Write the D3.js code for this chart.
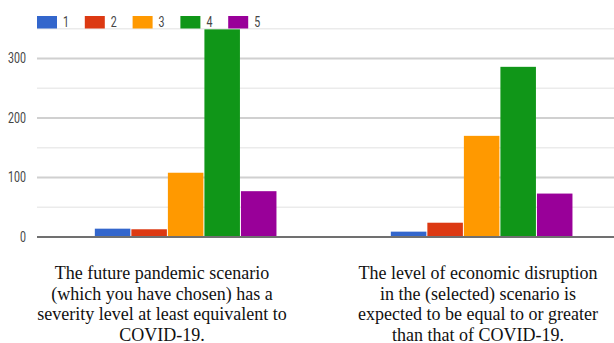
<!DOCTYPE html>
<html>
<head>
<meta charset="utf-8">
<script src="https://cdn.jsdelivr.net/npm/d3@7"></script>
<style>
  html, body { margin: 0; padding: 0; background: #fff; }
  svg { display: block; }
</style>
</head>
<body>
<svg id="chart" width="614" height="343"></svg>
<script>
// Survey statements (one group of bars each) and the Likert answers 1–5
const statements = [
  ["The future pandemic scenario", "(which you have chosen) has a", "severity level at least equivalent to", "COVID-19."],
  ["The level of economic disruption", "in the (selected) scenario is", "expected to be equal to or greater", "than that of COVID-19."]
];
const groupKeys = ["severity", "economy"];
const answers = ["1", "2", "3", "4", "5"];
const answerColors = ["#3366cc", "#dc3912", "#ff9900", "#109618", "#990099"];

// Number of respondents per answer, one array per statement
const severityCounts = [14, 13, 108, 349, 77];
const economyCounts = [9, 24, 170, 286, 73];
const countsByGroup = [severityCounts, economyCounts];

const yLabelTicks = [0, 100, 200, 300];
const yMinorTicks = [50, 150, 250, 350];

const svg = d3.select("#chart");
const W = 614;
const plotLeft = 37.5, plotRight = 629.5;
const plotTop = 28.75, plotBottom = 237;

const y = d3.scaleLinear().domain([0, 350]).range([plotBottom, plotTop]);
const x0 = d3.scaleBand().domain(groupKeys).range([plotLeft, plotRight]).padding(0);
const bw = x0.bandwidth();
const x1 = d3.scaleBand().domain(answers).range([bw * 0.192, bw * 0.809]).padding(0);
const color = d3.scaleOrdinal().domain(answers).range(answerColors);

// Gridlines: light at the half steps, darker at labelled steps
svg.append("g").selectAll("line").data(yMinorTicks).join("line")
  .attr("x1", 37).attr("x2", W)
  .attr("y1", d => y(d)).attr("y2", d => y(d))
  .attr("stroke", "#ebebeb").attr("stroke-width", 1.5);
svg.append("g").selectAll("line").data(yLabelTicks.filter(d => d > 0)).join("line")
  .attr("x1", 37).attr("x2", W)
  .attr("y1", d => y(d)).attr("y2", d => y(d))
  .attr("stroke", "#d0d0d0").attr("stroke-width", 2);

// Bars
const groups = svg.append("g").selectAll("g").data(groupKeys).join("g")
  .attr("transform", d => `translate(${x0(d)},0)`);
groups.selectAll("rect")
  .data((d, gi) => answers.map((a, i) => ({ answer: a, value: countsByGroup[gi][i] })))
  .join("rect")
  .attr("x", d => x1(d.answer) + 0.5)
  .attr("width", x1.bandwidth() - 1)
  .attr("y", d => y(d.value))
  .attr("height", d => y(0) - y(d.value))
  .attr("fill", d => color(d.answer));

// Baseline
svg.append("line")
  .attr("x1", 37).attr("x2", W)
  .attr("y1", y(0)).attr("y2", y(0))
  .attr("stroke", "#707070").attr("stroke-width", 2);

// Y axis labels (narrow sans face)
const yAxis = d3.axisLeft(y).tickValues(yLabelTicks).tickSize(0).tickPadding(0).tickFormat(d3.format("d"));
const yAxisG = svg.append("g").attr("transform", "translate(26,0)").call(yAxis);
yAxisG.select(".domain").remove();
yAxisG.selectAll("text")
  .attr("x", 0)
  .attr("transform", "scale(0.76,1)")
  .style("font-family", "Roboto, Arial, sans-serif")
  .style("font-size", "14px")
  .attr("fill", "#444");

// Legend
const legend = svg.append("g").selectAll("g").data(answers).join("g")
  .attr("transform", (d, i) => `translate(${37 + i * 47.8},16)`);
legend.append("rect")
  .attr("width", 20).attr("height", 12.5)
  .attr("fill", d => color(d));
legend.append("text")
  .attr("transform", "translate(26,11) scale(0.76,1)")
  .style("font-family", "Roboto, Arial, sans-serif")
  .style("font-size", "14px")
  .attr("fill", "#444")
  .text(d => d);

// Statement captions under each group
const captionCenters = [162, 478];
svg.append("g").selectAll("text").data(statements).join("text")
  .attr("text-anchor", "middle")
  .style("font-family", "'Liberation Serif', 'Times New Roman', serif")
  .style("font-size", "18px")
  .attr("fill", "#111")
  .each(function (lines, i) {
    d3.select(this).selectAll("tspan").data(lines).join("tspan")
      .attr("x", captionCenters[i])
      .attr("y", (d, j) => 279 + j * 20.5)
      .text(d => d);
  });
</script>
</body>
</html>
